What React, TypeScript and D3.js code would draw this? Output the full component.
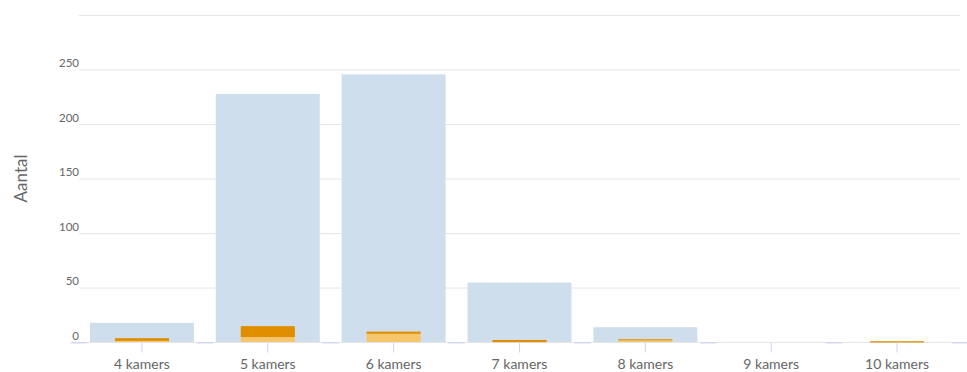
import React from "react";
import * as d3 from "d3";

const categories = ["4 kamers", "5 kamers", "6 kamers", "7 kamers", "8 kamers", "9 kamers", "10 kamers"];
const totalValues = [18, 228, 246, 55, 14, 0, 0];
const lightOrangeValues = [1.5, 5, 8, 0.3, 2, 0, 0];
const darkOrangeValues = [2.5, 10, 2, 2, 1, 0, 1.2];
const yTicks = [0, 50, 100, 150, 200, 250, 300];
const yLabels = ["0", "50", "100", "150", "200", "250"];

const W = 967;
const H = 372;
const FONT = "Lato, 'Open Sans', sans-serif";

export default function App() {
  const x = d3.scaleBand<string>().domain(categories).range([79, 960]).padding(0);
  const step = x.step();
  const y = d3.scaleLinear().domain([0, 300]).range([342.5, 15.5]);
  const y0 = y(0);
  const blueW = step * 0.826;
  const orangeW = step * 0.43;
  const stubW = step * 0.13;
  const boundaries = d3.range(categories.length + 1).map((i) => 79 + i * step);

  return (
    <svg width={W} height={H} style={{ position: "absolute", left: 0, top: 0 }} fontFamily={FONT}>
      <rect width={W} height={H} fill="#ffffff" />
      {yTicks.map((t) => (
        <line key={t} x1={79} x2={960} y1={y(t)} y2={y(t)} stroke="#e6e6e6" strokeWidth={1} />
      ))}
      {yLabels.map((l, i) => (
        <text key={l} x={79} y={y(yTicks[i]) - 3} textAnchor="end" fontSize={11.5} fill="#666666">
          {l}
        </text>
      ))}
      <text
        transform={`translate(27,178.5) rotate(-90)`}
        textAnchor="middle"
        fontSize={17}
        fill="#666666"
      >
        Aantal
      </text>
      {boundaries.map((b, i) => (
        <rect key={i} x={b - stubW / 2} y={y0 - 0.5} width={stubW} height={1.5} fill="#d4d8ef" />
      ))}
      {categories.map((c, i) => {
        const cx = (x(c) as number) + step / 2;
        const lightTop = y(lightOrangeValues[i]);
        const darkTop = y(lightOrangeValues[i] + darkOrangeValues[i]);
        return (
          <g key={c}>
            {totalValues[i] > 0 && (
              <rect x={cx - blueW / 2} y={y(totalValues[i])} width={blueW} height={y0 - 0.5 - y(totalValues[i])} fill="#cfdeec" />
            )}
            {lightOrangeValues[i] > 0 && (
              <rect x={cx - orangeW / 2} y={lightTop} width={orangeW} height={y0 - 0.5 - lightTop} fill="#f7c56a" />
            )}
            {darkOrangeValues[i] > 0 && (
              <rect x={cx - orangeW / 2} y={darkTop} width={orangeW} height={lightTop - darkTop} fill="#e08e00" />
            )}
            <line x1={cx} x2={cx} y1={y0} y2={y0 + 10} stroke="#ccd6eb" strokeWidth={1} />
            <text x={cx} y={369} textAnchor="middle" fontSize={14} fill="#666666">
              {c}
            </text>
          </g>
        );
      })}
    </svg>
  );
}
